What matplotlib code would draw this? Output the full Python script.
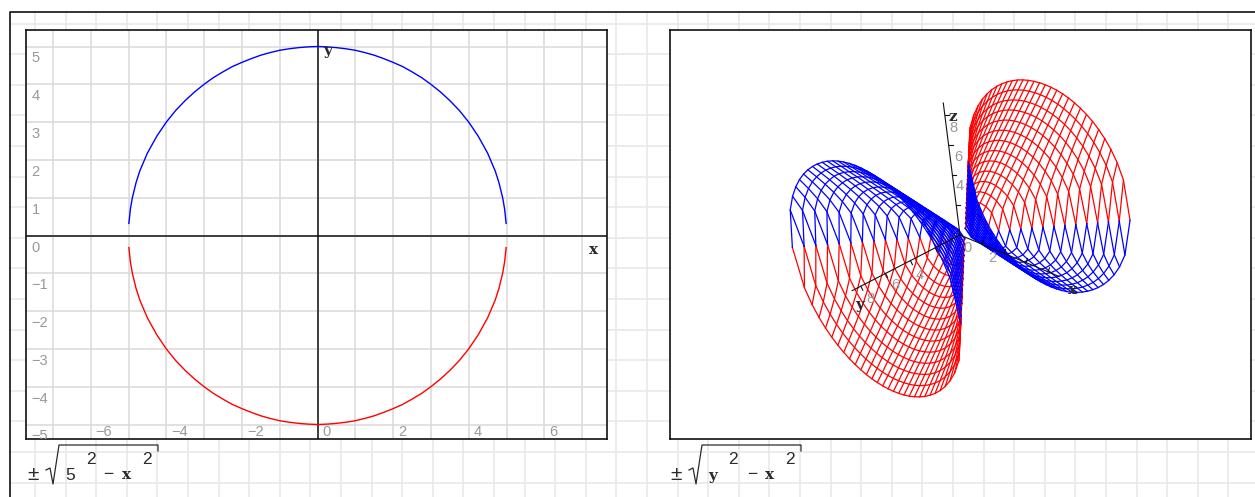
import numpy as np
import matplotlib
matplotlib.use("Agg")
import matplotlib.pyplot as plt

W, H = 1255, 497

# ---------- left plot data (quarter arc) ----------
arc_x = [0, .25, .5, .75, 1, 1.25, 1.5, 1.75, 2, 2.25, 2.5, 2.75, 3, 3.25, 3.5, 3.75,
         4, 4.25, 4.5, 4.7, 4.8, 4.9, 4.95, 4.99]
arc_y = [5, 4.99, 4.97, 4.94, 4.90, 4.84, 4.77, 4.68, 4.58, 4.47, 4.33, 4.18, 4, 3.80, 3.57, 3.31,
         3, 2.63, 2.18, 1.71, 1.40, .99, .70, .32]
y_tick_values = [5, 4, 3, 2, 1, 0, -1, -2, -3, -4, -5]
x_tick_values = [-6, -4, -2, 0, 2, 4, 6]

# ---------- right plot data: surface heights per row of the mesh ----------
mesh_y = [.5, 1, 1.5, 2, 2.5, 3, 3.5, 4, 4.5, 5, 5.5, 6, 6.5, 7, 7.5]
mesh_x = [0, .5, 1, 1.5, 2, 2.5, 3, 3.5, 4, 4.5, 5, 5.5, 6, 6.5, 7, 7.5]
mesh_z_rows = [
    [.5, 0],
    [1, .87, 0],
    [1.5, 1.41, 1.12, 0],
    [2, 1.94, 1.73, 1.32, 0],
    [2.5, 2.45, 2.29, 2, 1.5, 0],
    [3, 2.96, 2.83, 2.60, 2.24, 1.66, 0],
    [3.5, 3.46, 3.35, 3.16, 2.87, 2.45, 1.80, 0],
    [4, 3.97, 3.87, 3.71, 3.46, 3.12, 2.65, 1.94, 0],
    [4.5, 4.47, 4.39, 4.24, 4.03, 3.74, 3.35, 2.83, 2.06, 0],
    [5, 4.97, 4.90, 4.77, 4.58, 4.33, 4, 3.57, 3, 2.18, 0],
    [5.5, 5.48, 5.41, 5.29, 5.12, 4.90, 4.61, 4.24, 3.77, 3.16, 2.29, 0],
    [6, 5.98, 5.92, 5.81, 5.66, 5.45, 5.20, 4.87, 4.47, 3.97, 3.32, 2.40, 0],
    [6.5, 6.48, 6.42, 6.32, 6.18, 6, 5.77, 5.48, 5.12, 4.69, 4.15, 3.46, 2.5, 0],
    [7, 6.98, 6.93, 6.84, 6.71, 6.54, 6.32, 6.06, 5.74, 5.36, 4.90, 4.33, 3.61, 2.60, 0],
    [7.5, 7.48, 7.43, 7.35, 7.23, 7.07, 6.87, 6.63, 6.34, 6, 5.59, 5.10, 4.5, 3.74, 2.69, 0],
]
axis_3d_ticks = [2, 4, 6, 8]
axis_3d_labels = ["4", "6", "8"]

# ---------- styles ----------
PAGE = "#e9e9e9"
GRID = "#dcdcdc"
TICK = "#999999"
TXT = "#2b2b2b"
SANS = "Liberation Sans"
SLAB = "DejaVu Serif"

fig = plt.figure(figsize=(W / 100, H / 100), dpi=100, facecolor="white")


def pix_axes(x0, y0, x1, y1, **kw):
    return fig.add_axes([x0 / W, 1 - y1 / H, (x1 - x0) / W, (y1 - y0) / H], **kw)


# page layer in pixel coordinates
page = pix_axes(0, 0, W, H)
page.set_xlim(0, W)
page.set_ylim(H, 0)
page.axis("off")
for gx in np.arange(35, W, 30.6):
    page.plot([gx, gx], [12, H], color=PAGE, lw=1.2, zorder=1)
for gy in np.arange(23.5, H, 30.6):
    page.plot([10, W], [gy, gy], color=PAGE, lw=1.2, zorder=1)
page.plot([10, 10, W], [H, 12, 12], color="#111111", lw=1.2, zorder=2)

# ---------- left panel ----------
ax = pix_axes(26, 30, 607, 439)
unit = 37.8
ax.set_xlim((26 - 317.5) / unit, (607 - 317.5) / unit)
ax.set_ylim((235.5 - 439) / unit, (235.5 - 30) / unit)
ax.set_xticks([])
ax.set_yticks([])
for s in ax.spines.values():
    s.set_linewidth(1.2)
    s.set_color("#111111")
for v in range(-7, 8):
    ax.axvline(v, color=GRID, lw=1.2, zorder=1)
for v in range(-5, 6):
    ax.axhline(v, color=GRID, lw=1.2, zorder=1)
ax.axhline(0, color="#111111", lw=1.1, zorder=2)
ax.axvline(0, color="#111111", lw=1.1, zorder=2)

xs = np.array(arc_x)
ys = np.array(arc_y)
full_x = np.concatenate([-xs[::-1], xs[1:]])
full_y = np.concatenate([ys[::-1], ys[1:]])
ax.plot(full_x, full_y, color="#0000ff", lw=1.0, zorder=3)
ax.plot(full_x, -full_y, color="#ff0000", lw=1.0, zorder=3)

for v in y_tick_values:
    ax.annotate(str(v).replace("-", "\u2212"), (-7.7, v), xytext=(5, -12), textcoords="offset pixels",
                ha="left", va="center", color=TICK, family=SANS, fontsize=10.5,
                annotation_clip=False, clip_on=True, zorder=4)
for v in x_tick_values:
    ax.annotate(str(v).replace("-", "\u2212"), (v, -5.2), xytext=(5, 0), textcoords="offset pixels",
                ha="left", va="center", color=TICK, family=SANS, fontsize=10.5, zorder=4)
ax.annotate("y", (0, 5.0), xytext=(10, -4), textcoords="offset pixels", ha="center", va="center",
            family=SLAB, weight="bold", fontsize=11, color=TXT, zorder=5)
ax.annotate("x", (7.3, 0), xytext=(0, -14), textcoords="offset pixels", ha="center", va="center",
            family=SLAB, weight="bold", fontsize=11, color=TXT, zorder=5)

# ---------- right panel: data in pixel space via a camera projection ----------
bx = pix_axes(670, 30, 1251, 439)
bx.set_xlim(670, 1251)
bx.set_ylim(439, 30)
bx.set_xticks([])
bx.set_yticks([])
for s in bx.spines.values():
    s.set_linewidth(1.2)
    s.set_color("#111111")

ORIGIN = np.array([965.0, 233.5])
EX = np.array([11.0, 4.4])
EY = np.array([-11.5, 6.2])
EZ = np.array([-1.4, -14.2])
PERSP = np.array([-.006, -.009, -.007])

AXIS_ORIGIN = np.array([960.0, 235.0])
AXIS_EX = np.array([11.0, 4.6])
AXIS_EY = np.array([-12.4, 6.4])
AXIS_EZ = np.array([-1.9, -15.0])


def project(x, y, z):
    x, y, z = np.asarray(x, float), np.asarray(y, float), np.asarray(z, float)
    w = 1 + PERSP[0] * x + PERSP[1] * y + PERSP[2] * z
    return (ORIGIN[0] + (x * EX[0] + y * EY[0] + z * EZ[0]) / w,
            ORIGIN[1] + (x * EX[1] + y * EY[1] + z * EZ[1]) / w)


def axis_point(e, t):
    return AXIS_ORIGIN + e * t


half = np.full((len(mesh_y), len(mesh_x)), np.nan)
for i, row in enumerate(mesh_z_rows):
    half[i, :len(row)] = row
gy = np.array(mesh_y)
gx_half = np.array(mesh_x)
gx = np.concatenate([-gx_half[:0:-1], gx_half])
Zfull = np.hstack([half[:, :0:-1], half])


def draw_sheet(ysign, zsign, color, order):
    for i, yy in enumerate(gy):
        px, py = project(gx, ysign * yy * np.ones_like(gx), zsign * Zfull[i])
        bx.plot(px, py, color=color, lw=.9, zorder=order)
    for j, xx in enumerate(gx):
        px, py = project(xx * np.ones_like(gy), ysign * gy, zsign * Zfull[:, j])
        bx.plot(px, py, color=color, lw=.9, zorder=order)


draw_sheet(1, -1, "#ff0000", 2)
draw_sheet(-1, 1, "#ff0000", 2)
draw_sheet(1, 1, "#0000ff", 3)
draw_sheet(-1, -1, "#0000ff", 3)

# axes of the 3-D plot
AK = "#111111"
for e, length, tick in [(AXIS_EX, 9.0, (1.5, -4)), (AXIS_EY, 8.7, (2, 4)), (AXIS_EZ, 8.8, (4, 0))]:
    a, b = axis_point(e, 0), axis_point(e, length)
    bx.plot([a[0], b[0]], [a[1], b[1]], color=AK, lw=.8, zorder=4)
    for t in axis_3d_ticks:
        p = axis_point(e, t)
        bx.plot([p[0], p[0] + tick[0]], [p[1], p[1] + tick[1]], color=AK, lw=.8, zorder=4)

LBL = dict(color=TICK, family=SANS, fontsize=10.5, ha="center", va="center", zorder=5)
bx.text(968, 248, "0", **LBL)
bx.text(992, 258, "2", **LBL)
y_label_pos = [(920, 275), (895, 285), (870, 299)]
z_label_pos = [(960, 186), (958, 157), (953, 128)]
for lab, p, q in zip(axis_3d_labels, y_label_pos, z_label_pos):
    bx.text(p[0], p[1], lab, **LBL)
    bx.text(q[0], q[1], lab, **LBL)
BL = dict(family=SLAB, weight="bold", fontsize=11, color=TXT, ha="center", va="center", zorder=6)
bx.text(953, 117, "z", **BL)
bx.text(860, 305, "y", **BL)
bx.text(1073, 290, "x", **BL)


# ---------- captions ----------
def caption(x0, end, items):
    page.plot([x0 + 13, x0 + 17, x0 + 20, x0 + 26, end, end],
              [470, 468, 484, 445, 445, 451], color=TXT, lw=.9, zorder=3)
    page.text(x0, 474, "\u00b1", family=SANS, fontsize=15, color=TXT, ha="center", va="center")
    for s, px, py, fam, wt, fs in items:
        page.text(px, py, s, family=fam, weight=wt, fontsize=fs, color=TXT, ha="center", va="center")


caption(33, 158, [("5", 70, 475, SANS, "normal", 12.5), ("2", 91, 460, SANS, "normal", 12.5),
                  ("\u2212", 108, 475, SANS, "normal", 12.5), ("x", 127, 475, SLAB, "bold", 11),
                  ("2", 147, 460, SANS, "normal", 12.5)])
caption(676, 801, [("y", 713, 476, SLAB, "bold", 11), ("2", 733, 460, SANS, "normal", 12.5),
                   ("\u2212", 752, 475, SANS, "normal", 12.5), ("x", 770, 475, SLAB, "bold", 11),
                   ("2", 790, 460, SANS, "normal", 12.5)])

fig.savefig("out.png", dpi=100, facecolor="white")
